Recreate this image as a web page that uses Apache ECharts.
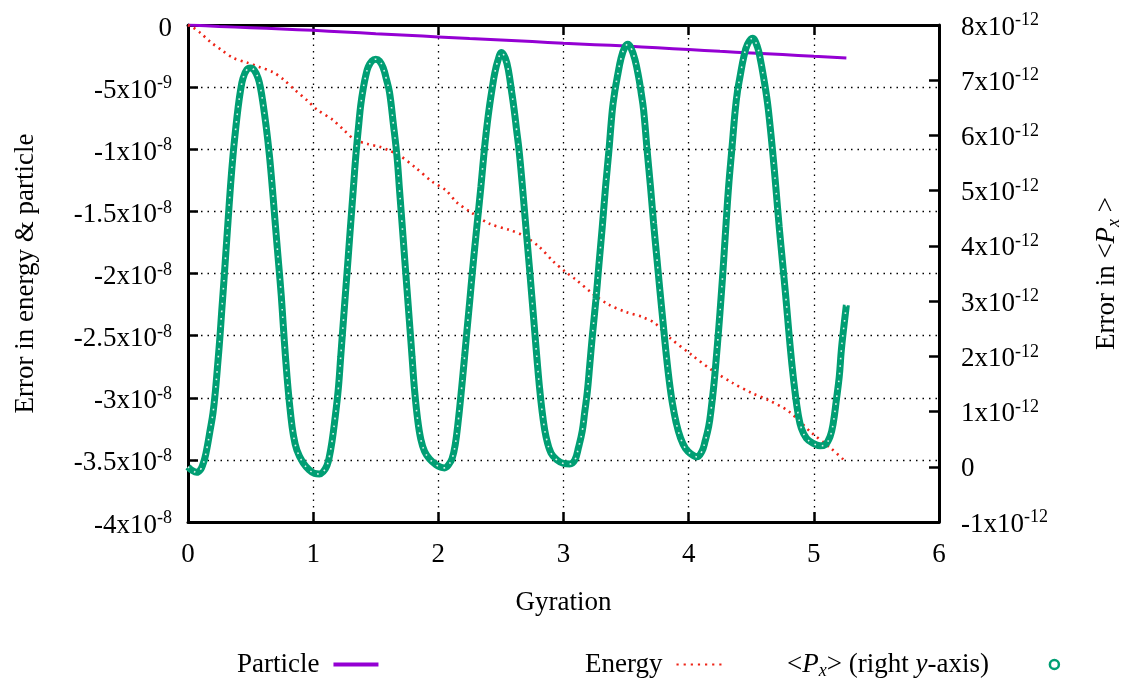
<!DOCTYPE html>
<html>
<head>
    <meta charset="UTF-8">
    <title>Error in energy, particle and Px vs gyration</title>
    <style>
        html, body { margin: 0; padding: 0; background: #fff; }
    </style>
</head>
<body>
<div id="chart" style="width: 1131px;height: 680px;"></div>
<script src="https://cdn.jsdelivr.net/npm/echarts@6/dist/echarts.min.js"></script>
<script>
    // particle error, units of 1e-9 (left axis)
    var particleX = [0, 0.25, 0.5, 0.75, 1.0, 1.25, 1.5, 1.75, 2.0, 2.25, 2.5, 2.75, 3.0, 3.25, 3.5, 3.75, 4.0, 4.25, 4.5, 4.75, 5.0, 5.26];
    var particleY = [0, -0.12, -0.22, -0.32, -0.43, -0.56, -0.70, -0.83, -0.96, -1.09, -1.20, -1.33, -1.47, -1.58, -1.70, -1.84, -1.98, -2.12, -2.25, -2.38, -2.52, -2.65];

    // energy error, units of 1e-9 (left axis)
    var energyX = [0, 0.04, 0.10, 0.18, 0.27, 0.36, 0.47, 0.57, 0.68, 0.77, 0.85, 0.95, 1.03, 1.16, 1.24, 1.33, 1.44, 1.53, 1.60, 1.69, 1.82, 1.95, 2.06, 2.15, 2.25, 2.41, 2.57, 2.67, 2.80, 2.92, 3.02, 3.10, 3.23, 3.36, 3.50, 3.63, 3.73, 3.84, 4.03, 4.19, 4.35, 4.50, 4.64, 4.80, 4.98, 5.14, 5.25];
    var energyY = [0, -0.2, -0.64, -1.37, -2.03, -2.65, -3.02, -3.38, -3.80, -4.45, -5.19, -6.05, -6.80, -7.66, -8.41, -9.21, -9.59, -9.80, -10.07, -10.5, -11.5, -12.6, -13.3, -14.3, -15.0, -16.0, -16.5, -16.9, -17.8, -19.05, -19.9, -20.5, -21.6, -22.5, -23.1, -23.5, -24.0, -25.1, -26.6, -27.8, -28.8, -29.6, -30.2, -31.1, -32.8, -34.1, -35.1];

    // <Px> error, units of 1e-12 (right axis)
    var pxX = [0, 0.03, 0.07, 0.10, 0.12, 0.135, 0.155, 0.175, 0.20, 0.22, 0.24, 0.255, 0.27, 0.285, 0.30, 0.32, 0.34, 0.36, 0.38, 0.40, 0.42, 0.44, 0.47, 0.50, 0.53, 0.56, 0.58, 0.60, 0.625, 0.65, 0.67, 0.69, 0.71, 0.725, 0.745, 0.76, 0.78, 0.80, 0.82, 0.84, 0.87, 0.92, 0.97,
        1.01, 1.05, 1.08, 1.11, 1.13, 1.15, 1.17, 1.20, 1.22, 1.24, 1.26, 1.28, 1.30, 1.32, 1.34, 1.365, 1.38, 1.40, 1.42, 1.44, 1.47, 1.50, 1.53, 1.56, 1.585, 1.61, 1.64, 1.67, 1.69, 1.71, 1.73, 1.75, 1.77, 1.79, 1.81, 1.835, 1.86, 1.89, 1.93, 1.98,
        2.02, 2.05, 2.08, 2.11, 2.135, 2.16, 2.185, 2.21, 2.23, 2.25, 2.27, 2.29, 2.31, 2.34, 2.367, 2.39, 2.41, 2.43, 2.45, 2.475, 2.505, 2.535, 2.56, 2.585, 2.606, 2.625, 2.645, 2.672, 2.699, 2.725, 2.75, 2.77, 2.79, 2.81, 2.835, 2.86, 2.90, 2.95,
        3.00, 3.05, 3.09, 3.12, 3.15, 3.17, 3.19, 3.21, 3.23, 3.26, 3.283, 3.31, 3.336, 3.363, 3.39, 3.41, 3.43, 3.46, 3.49, 3.514, 3.54, 3.57, 3.60, 3.62, 3.64, 3.668, 3.695, 3.72, 3.745, 3.77, 3.795, 3.82, 3.845, 3.87, 3.90, 3.935, 3.975,
        4.02, 4.066, 4.106, 4.13, 4.16, 4.18, 4.20, 4.22, 4.24, 4.26, 4.28, 4.30, 4.32, 4.345, 4.372, 4.39, 4.41, 4.44, 4.47, 4.51, 4.55, 4.575, 4.598, 4.62, 4.637, 4.67, 4.696, 4.723, 4.75, 4.775, 4.80, 4.825, 4.85, 4.875, 4.90, 4.94, 4.99,
        5.05, 5.09, 5.13, 5.155, 5.18, 5.203, 5.22, 5.24, 5.26];
    var pxY = [0.00, -0.06, -0.10, -0.05, 0.05, 0.16, 0.38, 0.64, 0.98, 1.40, 1.93, 2.35, 2.84, 3.30, 3.80, 4.45, 5.10, 5.65, 6.10, 6.50, 6.82, 7.04, 7.19, 7.22, 7.18, 7.04, 6.85, 6.57, 6.15, 5.65, 5.15, 4.60, 4.05, 3.65, 3.10, 2.60, 1.95, 1.40, 0.95, 0.60, 0.30, 0.07, -0.06,
        -0.12, -0.13, -0.09, 0.02, 0.19, 0.45, 0.79, 1.39, 1.99, 2.60, 3.20, 3.80, 4.41, 5.01, 5.61, 6.22, 6.55, 6.85, 7.08, 7.24, 7.35, 7.38, 7.35, 7.22, 7.02, 6.78, 6.22, 5.61, 5.01, 4.41, 3.80, 3.20, 2.60, 1.99, 1.39, 0.85, 0.50, 0.28, 0.14, 0.04,
        -0.01, -0.02, 0.03, 0.15, 0.40, 0.85, 1.40, 2.00, 2.50, 2.98, 3.48, 3.95, 4.40, 5.07, 5.73, 6.20, 6.55, 6.85, 7.12, 7.35, 7.50, 7.40, 7.18, 6.80, 6.46, 6.10, 5.73, 5.07, 4.35, 3.68, 3.00, 2.45, 1.90, 1.40, 0.90, 0.55, 0.25, 0.12,
        0.06, 0.05, 0.12, 0.35, 0.65, 1.00, 1.35, 1.85, 2.36, 3.05, 3.66, 4.35, 5.07, 5.73, 6.46, 6.80, 7.06, 7.40, 7.60, 7.65, 7.58, 7.38, 7.06, 6.78, 6.46, 5.73, 5.07, 4.40, 3.80, 3.20, 2.62, 2.05, 1.55, 1.15, 0.80, 0.52, 0.33,
        0.23, 0.18, 0.28, 0.45, 0.73, 1.05, 1.45, 1.95, 2.50, 3.10, 3.75, 4.45, 5.10, 5.75, 6.46, 6.80, 7.06, 7.42, 7.65, 7.76, 7.60, 7.35, 7.06, 6.75, 6.46, 5.73, 5.07, 4.35, 3.70, 3.10, 2.45, 1.85, 1.35, 0.95, 0.70, 0.52, 0.43,
        0.38, 0.40, 0.55, 0.79, 1.21, 1.63, 2.12, 2.54, 2.93];

    // tick labels: mantissa + exponent
    var leftTickValues = [0, -5, -10, -15, -20, -25, -30, -35, -40];
    var leftTickMant = ['0', '-5x10', '-1x10', '-1.5x10', '-2x10', '-2.5x10', '-3x10', '-3.5x10', '-4x10'];
    var leftTickExp = ['', '-9', '-8', '-8', '-8', '-8', '-8', '-8', '-8'];
    var rightTickValues = [-1, 0, 1, 2, 3, 4, 5, 6, 7, 8];
    var rightTickMant = ['-1x10', '0', '1x10', '2x10', '3x10', '4x10', '5x10', '6x10', '7x10', '8x10'];
    var rightTickExp = ['-12', '', '-12', '-12', '-12', '-12', '-12', '-12', '-12', '-12'];

    function zip(xs, ys) {
        return xs.map(function (x, i) { return [x, ys[i]]; });
    }

    var FONT = '"Liberation Serif", "DejaVu Serif", serif';
    var FS = 27;
    var richNum = {
        b: { fontFamily: FONT, fontSize: FS, color: '#000', lineHeight: 32 },
        s: { fontFamily: FONT, fontSize: 18, color: '#000', lineHeight: 17, verticalAlign: 'top' }
    };
    var richName = {
        r: { fontFamily: FONT, fontSize: FS, color: '#000', lineHeight: 32 },
        i: { fontFamily: FONT, fontSize: FS, color: '#000', fontStyle: 'italic', lineHeight: 32 },
        sub: { fontFamily: FONT, fontSize: 18, color: '#000', fontStyle: 'italic', lineHeight: 17, verticalAlign: 'bottom' }
    };

    function tickFmt(values, mant, exp) {
        return function (v) {
            var i = values.indexOf(Math.round(v));
            if (i < 0) return '';
            return exp[i] ? '{b|' + mant[i] + '}{s|' + exp[i] + '}' : '{b|' + mant[i] + '}';
        };
    }

    var dotted = [1.5, 5];
    var dotsIcon = 'path://M0,0h2v2h-2z M6.5,0h2v2h-2z M13,0h2v2h-2z M19.5,0h2v2h-2z M26,0h2v2h-2z M32.5,0h2v2h-2z M39,0h2v2h-2z';
    var chartDom = document.getElementById('chart');
    var myChart = echarts.init(chartDom, null, { renderer: 'canvas' });

    var option = {
        animation: false,
        backgroundColor: '#fff',
        grid: { left: 188, right: 189, top: 25, bottom: 158 },
        legend: [{
            left: 232, top: 646, align: 'right', itemWidth: 45, itemHeight: 4,
            data: [{ name: 'Particle', icon: 'rect' }],
            textStyle: { fontFamily: FONT, fontSize: FS, color: '#000', padding: [0, 9, 0, 0] }
        }, {
            left: 580, top: 646, align: 'right', itemWidth: 45, itemHeight: 2.6,
            data: [{ name: 'Energy', icon: dotsIcon }],
            textStyle: { fontFamily: FONT, fontSize: FS, color: '#000', padding: [0, 9, 0, 0] }
        }, {
            left: 782, top: 646, align: 'right', itemWidth: 9, itemHeight: 9,
            data: [{ name: 'Px', icon: 'circle', itemStyle: { color: '#fff', borderColor: '#009e73', borderWidth: 2.5 } }],
            formatter: function () { return '{r|<}{i|P}{sub|x}{r|> (right }{i|y}{r|-axis)}'; },
            textStyle: { rich: richName, padding: [0, 56, 0, 0] }
        }],
        xAxis: [{
            type: 'value', min: 0, max: 6, interval: 1,
            name: 'Gyration', nameLocation: 'middle', nameGap: 67,
            nameTextStyle: { fontFamily: FONT, fontSize: FS, color: '#000' },
            axisLine: { show: true, onZero: false, lineStyle: { color: '#000', width: 3 } },
            axisTick: { show: true, inside: true, length: 10, lineStyle: { color: '#000', width: 2.5 } },
            axisLabel: { fontFamily: FONT, fontSize: FS, color: '#000', margin: 19 },
            splitLine: { show: true, lineStyle: { color: '#000', width: 1.3, type: dotted } }
        }, {
            type: 'value', min: 0, max: 6, interval: 1, position: 'top',
            axisLine: { show: true, onZero: false, lineStyle: { color: '#000', width: 3 } },
            axisTick: { show: true, inside: true, length: 10, lineStyle: { color: '#000', width: 2.5 } },
            axisLabel: { show: false },
            splitLine: { show: false }
        }],
        yAxis: [{
            type: 'value', min: -40, max: 0, interval: 5, position: 'left',
            name: 'Error in energy & particle', nameLocation: 'middle', nameGap: 149, nameRotate: 90,
            nameTextStyle: { fontFamily: FONT, fontSize: FS, color: '#000' },
            axisLine: { show: true, onZero: false, lineStyle: { color: '#000', width: 3 } },
            axisTick: { show: true, inside: true, length: 10, lineStyle: { color: '#000', width: 2.5 } },
            axisLabel: { margin: 16, padding: [7, 0, 0, 0], formatter: tickFmt(leftTickValues, leftTickMant, leftTickExp), rich: richNum },
            splitLine: { show: true, lineStyle: { color: '#000', width: 1.3, type: dotted } }
        }, {
            type: 'value', min: -1, max: 8, interval: 1, position: 'right',
            name: '{r|Error in <}{i|P}{sub|x}{r| >}', nameLocation: 'middle', nameGap: 152, nameRotate: 90,
            nameTextStyle: { rich: richName },
            axisLine: { show: true, onZero: false, lineStyle: { color: '#000', width: 3 } },
            axisTick: { show: true, inside: true, length: 10, lineStyle: { color: '#000', width: 2.5 } },
            axisLabel: { margin: 22, padding: [5, 0, 0, 0], formatter: tickFmt(rightTickValues, rightTickMant, rightTickExp), rich: richNum },
            splitLine: { show: false }
        }],
        series: [{
            name: 'Particle', type: 'line', yAxisIndex: 0, symbol: 'none',
            data: zip(particleX, particleY), smooth: 0.3,
            itemStyle: { color: '#9400d3' },
            lineStyle: { color: '#9400d3', width: 3 }
        }, {
            name: 'Energy', type: 'line', yAxisIndex: 0, symbol: 'none',
            data: zip(energyX, energyY), smooth: 0.3,
            itemStyle: { color: '#ee2417' },
            lineStyle: { color: '#ee2417', width: 2.6, type: [2, 4.4] }
        }, {
            name: 'Px', type: 'line', yAxisIndex: 1, symbol: 'none',
            data: zip(pxX, pxY), smooth: 0.4,
            itemStyle: { color: '#009e73' },
            lineStyle: { color: '#009e73', width: 7 }
        }, {
            name: 'PxRings', type: 'line', yAxisIndex: 1, symbol: 'none', silent: true,
            data: zip(pxX, pxY), smooth: 0.4,
            lineStyle: { color: '#ffffff', width: 1.6, type: [1.6, 6], opacity: 0.85 }
        }]
    };

    myChart.setOption(option);
    window.onresize = function () { myChart.resize(); };
</script>
</body>
</html>
